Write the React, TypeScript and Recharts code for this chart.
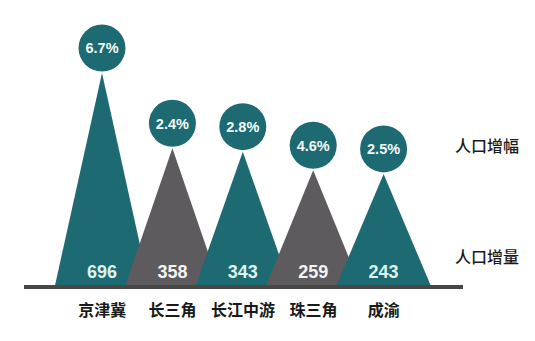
import { BarChart, Bar, XAxis, YAxis } from "recharts";

const regions = ["京津冀", "长三角", "长江中游", "珠三角", "成渝"];
const increase = [696, 358, 343, 259, 243];
const growth = [6.7, 2.4, 2.8, 4.6, 2.5];

const TEAL = "#1e6a72";
const GRAY = "#5d5b5e";
const CJK = "'Noto Sans CJK SC', 'Noto Sans', sans-serif";
const NUM = "'Liberation Sans', Arial, sans-serif";

const data = regions.map((name, i) => ({ name, value: increase[i], pct: growth[i] }));

function Peak(props: any) {
  const { x, y, width, index, payload, background } = props;
  const cx = x + width / 2;
  const base = (background ? background.y + background.height : 287) - 2;
  const half = width * 0.67;
  const teal = index % 2 === 0;
  const r = 23.5;
  const cy = y - 25;
  return (
    <g>
      <polygon points={`${cx - half},${base} ${cx},${y} ${cx + half},${base}`} fill={teal ? TEAL : GRAY} />
      <circle cx={cx} cy={cy} r={r} fill={TEAL} />
      <text x={cx} y={cy} dy="0.36em" textAnchor="middle" fill="#f2fbfa" fontSize={14.5} fontWeight={700} fontFamily={NUM}>
        {payload.pct.toFixed(1)}%
      </text>
      <text x={cx} y={base - 13} dy="0.36em" textAnchor="middle" fill={teal ? "#dcf3f1" : "#f4f4f4"} fontSize={18} fontWeight={700} fontFamily={NUM}>
        {payload.value}
      </text>
    </g>
  );
}

const sideLabel = {
  position: "absolute" as const,
  left: 455,
  fontFamily: CJK,
  fontSize: 16,
  lineHeight: "16px",
  fontWeight: 500,
  color: "#1a1a1a",
};

export default function App() {
  return (
    <div style={{ position: "absolute", left: 0, top: 0, width: 535, height: 341, background: "#fff" }}>
      <BarChart width={535} height={341} data={data} margin={{ top: 51, right: 72, bottom: 24, left: 24 }} barCategoryGap={0}>
        <XAxis
          dataKey="name"
          height={30}
          padding={{ left: 43, right: 44 }}
          axisLine={{ stroke: "#474747", strokeWidth: 4 }}
          tickLine={false}
          tickMargin={12}
          tick={{ fill: "#1a1a1a", fontSize: 16, fontWeight: 700, fontFamily: CJK }}
        />
        <YAxis hide domain={[-265, 795]} />
        <Bar dataKey="value" shape={<Peak />} isAnimationActive={false} />
      </BarChart>
      <div style={{ ...sideLabel, top: 137 }}>人口增幅</div>
      <div style={{ ...sideLabel, top: 248 }}>人口增量</div>
    </div>
  );
}
